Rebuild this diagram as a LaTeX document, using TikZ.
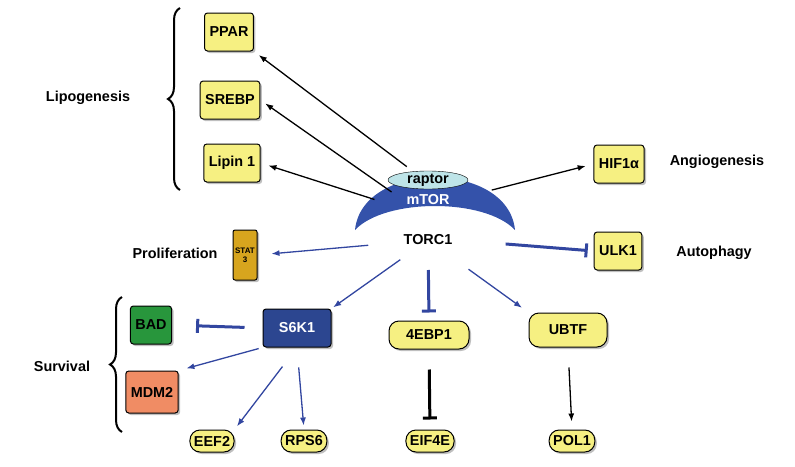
\documentclass[tikz,border=0pt]{standalone}
\usepackage{fontspec}
\setmainfont{Liberation Sans}
\usetikzlibrary{shadows,decorations.pathreplacing,arrows.meta,shapes.geometric}
\definecolor{genyellow}{RGB}{246,240,130}
\definecolor{torblue}{RGB}{52,82,170}
\definecolor{arrblue}{RGB}{50,70,160}
\definecolor{raptorcyan}{RGB}{190,228,232}
\definecolor{badgreen}{RGB}{40,150,60}
\definecolor{mdmorange}{RGB}{240,140,100}
\definecolor{statgold}{RGB}{215,165,30}
\tikzset{
  gene/.style={draw=black,line width=1pt,fill=genyellow,rounded corners=3pt,
    font=\bfseries\Large,minimum height=38pt,inner sep=5pt,
    drop shadow={shadow xshift=2pt,shadow yshift=-2pt}},
  pill/.style={draw=black,line width=1pt,fill=genyellow,rounded corners=10pt,
    font=\bfseries\Large,minimum height=22pt,inner sep=4pt,
    drop shadow={shadow xshift=2pt,shadow yshift=-2pt}},
  label/.style={font=\bfseries\Large},
  blk/.style={-{Latex[length=8pt,width=6pt]},line width=1.3pt},
  blu/.style={-{Latex[length=8pt,width=6pt]},line width=1.3pt,arrblue},
  inh/.style={-{Bar[width=14pt]},line width=3pt,arrblue},
  brc/.style={decorate,decoration={brace,amplitude=12pt},line width=2pt}
}
\begin{document}
\begin{tikzpicture}[x=1pt,y=-1pt]
\useasboundingbox (0,0) rectangle (795,466);

% mTOR complex
\fill[torblue] (355,230) .. controls (362,160) and (508,160) .. (515,230)
  .. controls (485,198) and (385,198) .. cycle;
\node[draw=black,fill=raptorcyan,ellipse,minimum width=80pt,minimum height=18pt,
  inner sep=0pt,font=\bfseries\Large] (raptor) at (428,180) {raptor};
\node[font=\bfseries\Large,text=white] (mtor) at (428,200) {mTOR};
\node[label] (torc) at (428,240) {TORC1};

% lipogenesis
\node[gene] (ppar) at (229,32) {PPAR};
\node[gene] (srebp) at (230,100) {SREBP};
\node[gene] (lipin) at (232,163) {Lipin 1};
\draw[brc] (180,190) -- (180,8);
\node[label] (lipo) at (88,98) {Lipogenesis};

% right side
\node[gene] (hif) at (619,164) {HIF1α};
\node[label] (angio) at (717,162) {Angiogenesis};
\node[gene] (ulk) at (618,251) {ULK1};
\node[label] (auto) at (714,253) {Autophagy};

% proliferation
\node[draw=black,line width=1pt,fill=statgold,rounded corners=2pt,minimum width=24pt,
  minimum height=50pt,inner sep=1pt,align=center,font=\bfseries\footnotesize,
  drop shadow={shadow xshift=2pt,shadow yshift=-2pt}] (stat) at (245,255) {STAT\\3};
\node[label] (prolif) at (175,253) {Proliferation};

% survival
\node[gene,fill=torblue!85!black,text=white,minimum width=68pt] (s6k) at (297,328) {S6K1};
\node[gene,fill=badgreen,minimum width=40pt] (bad) at (151,325) {BAD};
\node[gene,fill=mdmorange,minimum width=44pt,minimum height=42pt] (mdm) at (152,392) {MDM2};
\draw[brc] (122,432) -- (122,297);
\node[label] (surv) at (62,366) {Survival};

\node[pill,minimum width=80pt,minimum height=28pt] (ebp) at (429,335) {4EBP1};
\node[pill,minimum width=78pt,minimum height=34pt] (ubtf) at (568,330) {UBTF};
\node[pill] (eef) at (212,441) {EEF2};
\node[pill] (rps) at (304,441) {RPS6};
\node[pill] (eif) at (430,441) {EIF4E};
\node[pill] (pol) at (572,441) {POL1};

% connectors
\draw[blk,shorten <=8pt,shorten >=6pt] (raptor.150) -- (ppar.south east);
\draw[blk,shorten <=14pt,shorten >=6pt] (mtor.west) -- (srebp.east);
\draw[blk,shorten <=30pt,shorten >=8pt] (mtor.south west) -- (lipin.east);
\draw[blk,shorten <=40pt,shorten >=8pt] (mtor.east) -- (hif.west);
\draw[inh,shorten <=50pt,shorten >=6pt] (torc.east) -- (ulk.west);
\draw[blu,shorten <=60pt,shorten >=14pt] (torc.center) -- (stat.east);
\draw[blu,shorten <=34pt,shorten >=2pt] (torc.center) -- (s6k.north east);
\draw[inh,shorten <=30pt,shorten >=8pt] (torc.center) -- (ebp.north);
\draw[blu,shorten <=50pt,shorten >=8pt] (torc.center) -- (ubtf.north west);
\draw[inh,shorten <=18pt,shorten >=24pt] (s6k.west) -- (bad.east);
\draw[blu,shorten <=4pt,shorten >=8pt] (s6k.south west) -- (mdm.north east);
\draw[blu,shorten <=24pt,shorten >=4pt] (s6k.south) -- (eef.north east);
\draw[blu,shorten <=20pt,shorten >=4pt] (s6k.south) -- (rps.north);
\draw[inh,black,shorten <=20pt,shorten >=10pt] (ebp.south) -- (eif.north);
\draw[blk,shorten <=20pt,shorten >=8pt] (ubtf.south) -- (pol.north);
\end{tikzpicture}
\end{document}
